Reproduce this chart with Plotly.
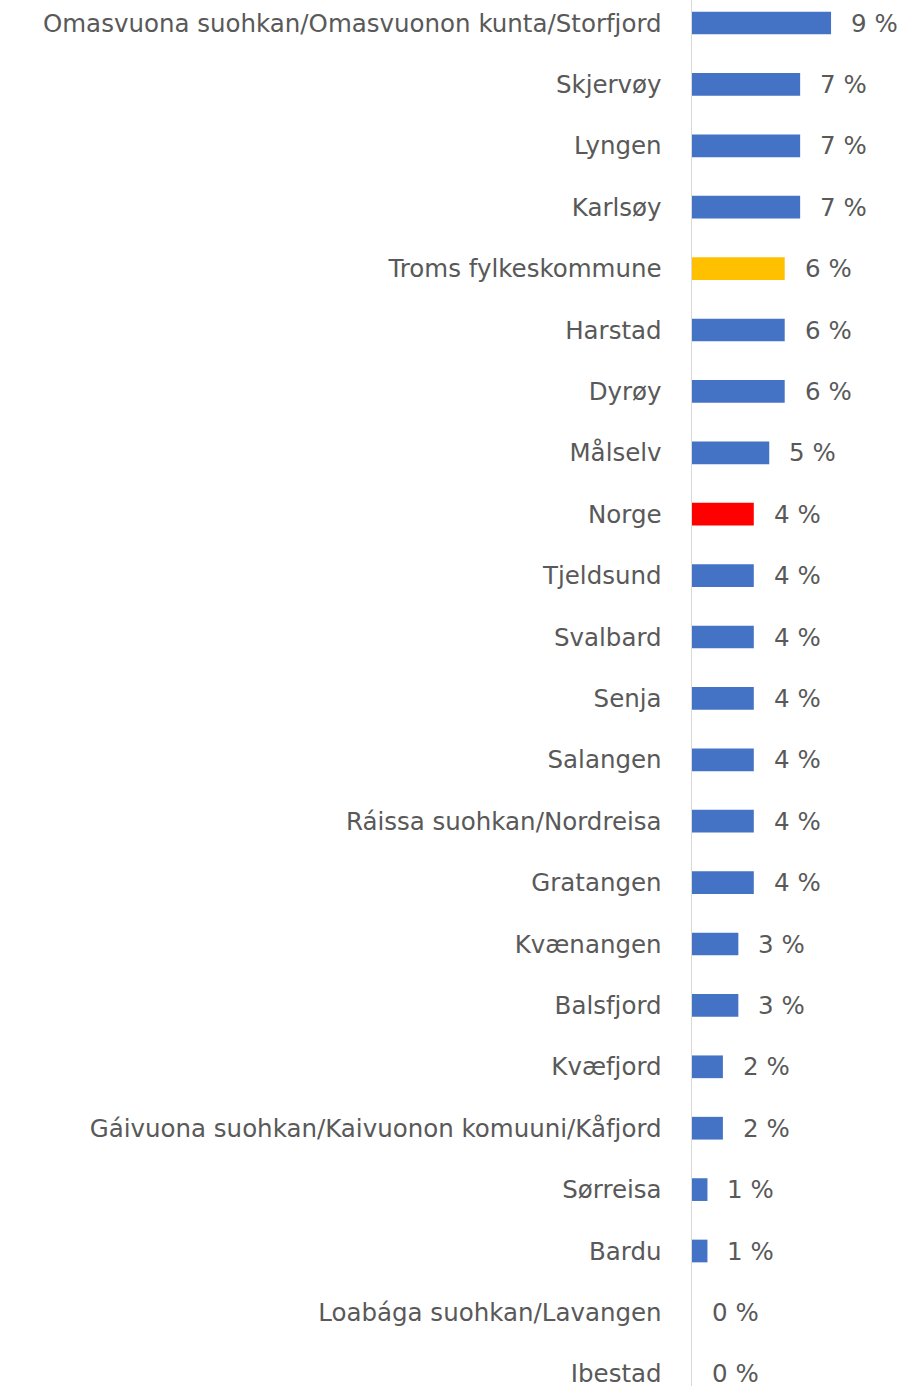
import plotly.graph_objects as go

categories = [
    "Omasvuona suohkan/Omasvuonon kunta/Storfjord", "Skjervøy", "Lyngen", "Karlsøy",
    "Troms fylkeskommune", "Harstad", "Dyrøy", "Målselv", "Norge", "Tjeldsund",
    "Svalbard", "Senja", "Salangen", "Ráissa suohkan/Nordreisa", "Gratangen",
    "Kvænangen", "Balsfjord", "Kvæfjord", "Gáivuona suohkan/Kaivuonon komuuni/Kåfjord",
    "Sørreisa", "Bardu", "Loabága suohkan/Lavangen", "Ibestad",
]
values = [9, 7, 7, 7, 6, 6, 6, 5, 4, 4, 4, 4, 4, 4, 4, 3, 3, 2, 2, 1, 1, 0, 0]
highlight = {"Troms fylkeskommune": "#FFC000", "Norge": "#FF0000"}
base_color = "#4472C4"
colors = [highlight.get(c, base_color) for c in categories]

W, H = 902, 1386
axis_x = 692
px_per_unit = 15.45
first_y = 23
step = 61.4
FONT = "DejaVu Sans"
FS = 24.5
TXT = "#595959"

fig = go.Figure(go.Bar(
    x=values, y=categories, orientation="h",
    marker=dict(color=colors, line=dict(width=0)),
    width=0.37, hoverinfo="skip",
))

for c, v in zip(categories, values):
    fig.add_annotation(x=v, y=c, text=f"{v} %", showarrow=False,
                       xanchor="left", yanchor="middle", xshift=18,
                       font=dict(family=FONT, size=FS, color=TXT))

fig.update_layout(
    width=W, height=H,
    margin=dict(l=axis_x, r=0, t=0, b=0),
    paper_bgcolor="white", plot_bgcolor="white",
    showlegend=False,
    font=dict(family=FONT, size=FS, color=TXT),
    xaxis=dict(range=[0, (W - axis_x) / px_per_unit], showgrid=False, zeroline=False,
               showticklabels=False, showline=False, fixedrange=True),
    yaxis=dict(type="category", categoryorder="array", categoryarray=categories,
               range=[(H - first_y) / step, -first_y / step],
               showgrid=False, zeroline=False, showline=True, linecolor="#D9D9D9",
               linewidth=1.5, ticks="", ticklabelstandoff=24, automargin=False,
               fixedrange=True,
               tickfont=dict(family=FONT, size=FS, color=TXT)),
)

fig.write_html("out.html", config={"displayModeBar": False, "staticPlot": True},
               post_script="document.body.style.margin='0';document.body.style.overflow='hidden';")
